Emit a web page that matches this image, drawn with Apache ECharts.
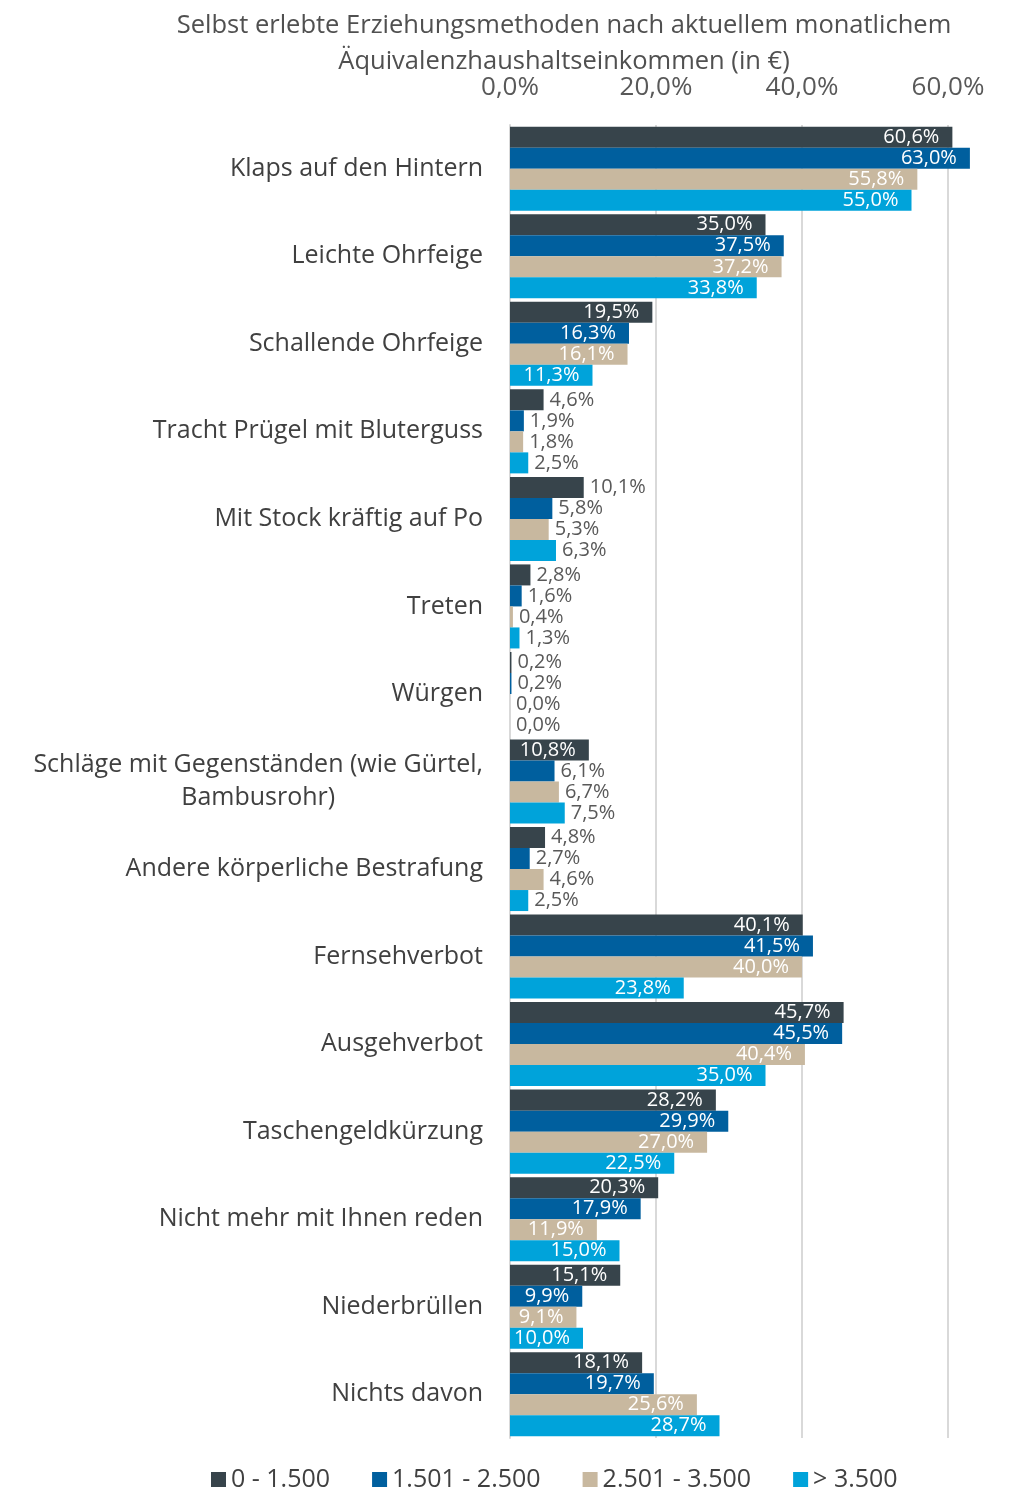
<!DOCTYPE html>
<html>
<head>
<meta charset="utf-8">
<script src="https://cdn.jsdelivr.net/npm/echarts@6/dist/echarts.min.js"></script>
<style>
  html, body { margin: 0; padding: 0; background: #ffffff; }
  #chart { width: 1009px; height: 1488px; }
</style>
</head>
<body>
<div id="chart"></div>
<script>
var categories = [
  'Klaps auf den Hintern',
  'Leichte Ohrfeige',
  'Schallende Ohrfeige',
  'Tracht Prügel mit Bluterguss',
  'Mit Stock kräftig auf Po',
  'Treten',
  'Würgen',
  'Schläge mit Gegenständen (wie Gürtel,\nBambusrohr)',
  'Andere körperliche Bestrafung',
  'Fernsehverbot',
  'Ausgehverbot',
  'Taschengeldkürzung',
  'Nicht mehr mit Ihnen reden',
  'Niederbrüllen',
  'Nichts davon'
];
var seriesNames = ['0 - 1.500', '1.501 - 2.500', '2.501 - 3.500', '> 3.500'];
var income0to1500    = [60.6, 35.0, 19.5, 4.6, 10.1, 2.8, 0.2, 10.8, 4.8, 40.1, 45.7, 28.2, 20.3, 15.1, 18.1];
var income1501to2500 = [63.0, 37.5, 16.3, 1.9, 5.8, 1.6, 0.2, 6.1, 2.7, 41.5, 45.5, 29.9, 17.9, 9.9, 19.7];
var income2501to3500 = [55.8, 37.2, 16.1, 1.8, 5.3, 0.4, 0.0, 6.7, 4.6, 40.0, 40.4, 27.0, 11.9, 9.1, 25.6];
var incomeOver3500   = [55.0, 33.8, 11.3, 2.5, 6.3, 1.3, 0.0, 7.5, 2.5, 23.8, 35.0, 22.5, 15.0, 10.0, 28.7];
var tickValues = [0, 20, 40, 60];

var seriesData = [income0to1500, income1501to2500, income2501to3500, incomeOver3500];
var colors = ['#37444b', '#005f9e', '#c8b89f', '#00a3da'];
var smallCategories = [3, 4, 5, 6, 7, 8];

function fmt(v) { return v.toFixed(1).replace('.', ',') + '%'; }

var FONT = '"Open Sans", "Noto Sans", sans-serif';

var series = seriesData.map(function (arr, si) {
  return {
    name: seriesNames[si],
    type: 'bar',
    barGap: '0%',
    barCategoryGap: '4%',
    itemStyle: { color: colors[si] },
    data: arr.map(function (v, ci) {
      var outside = smallCategories.indexOf(ci) >= 0 && v < 10.5;
      return {
        value: v,
        label: outside ? {
          show: true, position: 'right', distance: 6, color: '#595959'
        } : {
          show: true, position: 'insideRight', distance: 13, color: '#ffffff'
        }
      };
    }),
    label: {
      show: true,
      fontFamily: FONT,
      fontSize: 20,
      formatter: function (p) { return fmt(p.value); }
    }
  };
});

var chart = echarts.init(document.getElementById('chart'), null, { renderer: 'canvas' });
chart.setOption({
  backgroundColor: '#ffffff',
  animation: false,
  title: {
    text: 'Selbst erlebte Erziehungsmethoden nach aktuellem monatlichem\nÄquivalenzhaushaltseinkommen (in €)',
    left: 559,
    top: 3,
    textAlign: 'center',
    textStyle: {
      fontFamily: FONT,
      fontSize: 25.5,
      fontWeight: 'normal',
      color: '#505050',
      lineHeight: 36
    }
  },
  legend: {
    top: 1462,
    left: 206,
    icon: 'rect',
    itemWidth: 15,
    itemHeight: 15,
    itemGap: 42,
    textStyle: { fontFamily: FONT, fontSize: 25, color: '#404040' },
    data: seriesNames
  },
  grid: {
    left: 510,
    top: 125,
    width: 64 * 7.3,
    bottom: 50,
    containLabel: false
  },
  xAxis: {
    type: 'value',
    position: 'top',
    min: 0,
    max: 64,
    interval: 20,
    axisLine: { show: false },
    axisTick: { show: false },
    axisLabel: {
      fontFamily: FONT,
      fontSize: 26,
      color: '#595959',
      margin: 24,
      showMaxLabel: false,
      formatter: function (v) { return tickValues.indexOf(v) >= 0 ? fmt(v) : ''; }
    },
    splitLine: {
      show: true,
      showMaxLine: false,
      lineStyle: { color: '#d9d9d9', width: 2 }
    }
  },
  yAxis: {
    type: 'category',
    inverse: true,
    data: categories,
    axisLine: { show: true, lineStyle: { color: '#d9d9d9', width: 2 } },
    axisTick: { show: false },
    axisLabel: {
      fontFamily: FONT,
      fontSize: 25,
      color: '#404040',
      margin: 27,
      lineHeight: 33,
      formatter: function (v) {
        return v.split('\n').map(function (l) { return '{c|' + l + '}'; }).join('\n');
      },
      rich: {
        c: { fontFamily: FONT, fontSize: 25, color: '#404040', align: 'center', lineHeight: 33 }
      }
    }
  },
  series: series
});
</script>
</body>
</html>
